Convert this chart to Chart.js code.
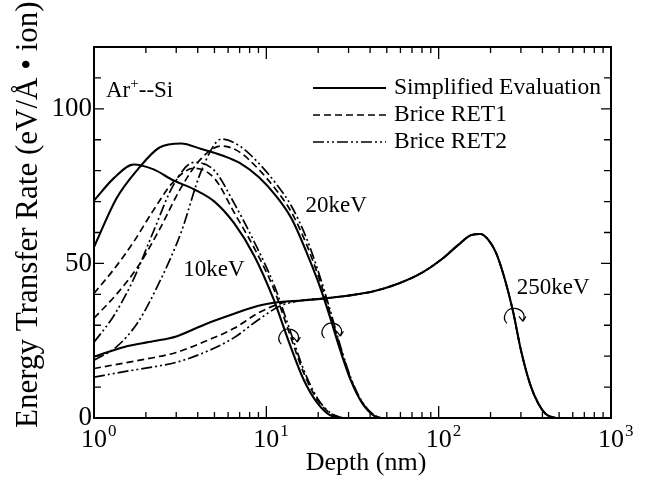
<!DOCTYPE html>
<html>
<head>
<meta charset="utf-8">
<script src="https://cdn.jsdelivr.net/npm/chart.js@4.4.0/dist/chart.umd.min.js"></script>
<style>
  html, body { margin: 0; padding: 0; background: #fff; }
  canvas { display: block; }
</style>
</head>
<body>
<canvas id="chart" width="654" height="491"></canvas>
<script>
// depth grids (nm) and energy transfer rates (eV/A/ion)
const depth10 = [1, 1.3, 1.7, 2.2, 2.9, 3.8, 5, 6.5, 8.5, 11, 13.5, 16.5, 20, 24, 28];
const sim10   = [70.3, 77.5, 82, 80.5, 76.8, 74, 70, 63, 52.5, 38.5, 24.7, 12.3, 4.5, 0.6, 0];
const ret1_10 = [40.3, 48, 57, 67, 76.5, 80.8, 77.5, 66.5, 55, 42, 28, 14.5, 5.5, 1.2, 0];
const ret2_10 = [24.5, 33, 45, 60, 75.5, 82.7, 80, 69.5, 57, 43.5, 29.5, 15.5, 6, 1.3, 0];

const depth20 = [1, 1.35, 1.8, 2.4, 3.2, 4.2, 5.5, 7, 9, 11.5, 14, 17, 20, 23, 27, 31, 36, 42, 46];
const sim20   = [55.3, 71, 80.5, 87.5, 88.8, 87, 85, 82.5, 78, 71.5, 64.5, 54, 44, 34, 21.5, 12, 4.8, 0.8, 0];
const ret1_20 = [32.3, 40, 49, 61, 74.5, 84, 88, 86, 80.5, 73.5, 66.5, 56.5, 46, 35.5, 22.5, 12.5, 5, 0.9, 0];
const ret2_20 = [18.7, 23, 31, 44, 60, 80, 90.2, 88, 82.5, 75.5, 68.5, 58.5, 47.5, 36.5, 23, 12.8, 5.2, 1, 0];

const depth250 = [1, 1.5, 2.2, 3, 4.5, 6.5, 9, 12, 16, 22, 30, 42, 58, 80, 105, 130, 155, 175, 195, 215, 240, 270, 300, 340, 380, 420, 470, 500];
const sim250   = [19.8, 23, 24.8, 26.4, 30.5, 33.7, 36.3, 37.5, 38, 38.7, 39.6, 41, 43.4, 47, 51.5, 56, 59.2, 59.5, 57.5, 53.5, 45.6, 34.5, 22, 10.8, 4.5, 1.2, 0.1, 0];
const ret1_250 = [16, 17.8, 19.5, 21.2, 25, 29, 34, 37, 38, 38.7, 39.6, 41, 43.4, 47, 51.5, 56, 59.2, 59.5, 57.5, 53.5, 45.6, 34.5, 22, 10.8, 4.5, 1.2, 0.1, 0];
const ret2_250 = [13.2, 15, 16.5, 18, 21.5, 26, 31.8, 36.2, 38, 38.7, 39.6, 41, 43.4, 47, 51.5, 56, 59.2, 59.5, 57.5, 53.5, 45.6, 34.5, 22, 10.8, 4.5, 1.2, 0.1, 0];

const legendNames = ["Simplified Evaluation", "Brice RET1", "Brice RET2"];
const xExponents = ["0", "1", "2", "3"];
const yTickValues = [0, 50, 100];

// annotations in data coordinates
const energyLabels = [
  { text: "10keV", x: 3.3, y: 46 },
  { text: "20keV", x: 16.9, y: 66.5 },
  { text: "250keV", x: 284, y: 40 }
];
const curlMarks = [
  { x: 13.6, y: 26.5 },
  { x: 24.2, y: 28.4 },
  { x: 277, y: 33.2 }
];

const SOLID = [];
const DASHED = [7, 4];
const DASH_DOT_DOT = [11, 3, 2, 3, 2, 3];
const styles = [SOLID, DASHED, DASH_DOT_DOT];

function pts(xs, ys) {
  return xs.map((x, i) => ({ x: x, y: ys[i] }));
}

function series(label, xs, ys, dash) {
  return {
    label: label,
    data: pts(xs, ys),
    borderColor: "#000",
    borderWidth: dash.length ? 1.7 : 2.1,
    borderDash: dash,
    pointRadius: 0,
    cubicInterpolationMode: "monotone",
    fill: false
  };
}

const serif = "'Liberation Serif', 'Times New Roman', serif";

const decorations = {
  id: "decorations",
  afterDraw(chart) {
    const ctx = chart.ctx;
    const a = chart.chartArea;
    const xs = chart.scales.x;
    const ys = chart.scales.y;
    ctx.save();
    ctx.strokeStyle = "#000";
    ctx.fillStyle = "#000";

    // frame
    ctx.lineWidth = 2;
    ctx.setLineDash([]);
    ctx.strokeRect(a.left, a.top, a.right - a.left, a.bottom - a.top);

    // x ticks (log), inward on bottom and top
    ctx.lineWidth = 1.3;
    ctx.beginPath();
    for (let e = 0; e < 3; e++) {
      for (let m = 1; m <= 9; m++) {
        const v = m * Math.pow(10, e);
        const px = xs.getPixelForValue(v);
        const len = m === 1 ? 12 : 6;
        ctx.moveTo(px, a.bottom); ctx.lineTo(px, a.bottom - len);
        ctx.moveTo(px, a.top); ctx.lineTo(px, a.top + len);
      }
    }
    // y ticks every 10
    for (let v = 10; v < 120; v += 10) {
      const py = ys.getPixelForValue(v);
      const len = v % 50 === 0 ? 10 : 7;
      ctx.moveTo(a.left, py); ctx.lineTo(a.left + len, py);
      ctx.moveTo(a.right, py); ctx.lineTo(a.right - len, py);
    }
    ctx.stroke();

    // y tick labels
    ctx.font = "27px " + serif;
    ctx.textAlign = "right";
    ctx.textBaseline = "middle";
    yTickValues.forEach(v => {
      ctx.fillText(String(v), a.left - 2, ys.getPixelForValue(v));
    });

    // x tick labels 10^n
    xExponents.forEach(ex => {
      const px = xs.getPixelForValue(Math.pow(10, Number(ex)));
      ctx.font = "26px " + serif;
      ctx.textAlign = "center";
      ctx.textBaseline = "alphabetic";
      ctx.fillText("10", px, a.bottom + 29);
      const w = ctx.measureText("10").width;
      ctx.font = "17px " + serif;
      ctx.textAlign = "left";
      ctx.fillText(ex, px + w / 2 + 1, a.bottom + 18);
    });

    // axis titles
    ctx.font = "26px " + serif;
    ctx.textAlign = "center";
    ctx.textBaseline = "alphabetic";
    ctx.fillText("Depth (nm)", 366, 470);

    ctx.save();
    ctx.translate(29, 428);
    ctx.rotate(-Math.PI / 2);
    ctx.font = "31px " + serif;
    ctx.textAlign = "left";
    ctx.textBaseline = "middle";
    ctx.fillText("Energy Transfer Rate (eV/\u00C5 \u2022 ion)", 0, 0);
    ctx.restore();

    // Ar+--Si
    ctx.font = "23px " + serif;
    ctx.textAlign = "left";
    ctx.textBaseline = "alphabetic";
    let tx = a.left + 12;
    const ty = a.top + 50;
    ctx.fillText("Ar", tx, ty);
    tx += ctx.measureText("Ar").width;
    ctx.font = "15px " + serif;
    ctx.fillText("+", tx, ty - 9);
    tx += ctx.measureText("+").width;
    ctx.font = "23px " + serif;
    ctx.fillText("--Si", tx, ty);

    // legend
    legendNames.forEach((name, i) => {
      const ly = a.top + 41 + i * 27;
      ctx.lineWidth = i === 0 ? 2 : 1.6;
      ctx.setLineDash(styles[i]);
      ctx.beginPath();
      ctx.moveTo(a.right - 298, ly);
      ctx.lineTo(a.right - 225, ly);
      ctx.stroke();
      ctx.setLineDash([]);
      ctx.font = "23.5px " + serif;
      ctx.textBaseline = "middle";
      ctx.fillText(name, a.right - 217, ly);
    });

    // energy labels
    ctx.font = "23px " + serif;
    ctx.textBaseline = "alphabetic";
    energyLabels.forEach(l => {
      ctx.fillText(l.text, xs.getPixelForValue(l.x), ys.getPixelForValue(l.y));
    });

    // curl arrows
    ctx.lineWidth = 1.2;
    curlMarks.forEach(c => {
      const cx = xs.getPixelForValue(c.x);
      const cy = ys.getPixelForValue(c.y);
      ctx.beginPath();
      ctx.moveTo(cx - 8, cy + 8);
      ctx.bezierCurveTo(cx - 14, cy + 2, cx - 8, cy - 8, cx, cy - 7);
      ctx.bezierCurveTo(cx + 8, cy - 6, cx + 11, cy, cx + 8, cy + 5);
      ctx.stroke();
      ctx.beginPath();
      ctx.moveTo(cx + 8, cy + 6);
      ctx.lineTo(cx + 4, cy + 1);
      ctx.moveTo(cx + 8, cy + 6);
      ctx.lineTo(cx + 11, cy + 1);
      ctx.stroke();
    });

    ctx.restore();
  }
};

const ctx = document.getElementById("chart").getContext("2d");
new Chart(ctx, {
  type: "line",
  data: {
    datasets: [
      series("10keV " + legendNames[0], depth10, sim10, SOLID),
      series("10keV " + legendNames[1], depth10, ret1_10, DASHED),
      series("10keV " + legendNames[2], depth10, ret2_10, DASH_DOT_DOT),
      series("20keV " + legendNames[0], depth20, sim20, SOLID),
      series("20keV " + legendNames[1], depth20, ret1_20, DASHED),
      series("20keV " + legendNames[2], depth20, ret2_20, DASH_DOT_DOT),
      series("250keV " + legendNames[0], depth250, sim250, SOLID),
      series("250keV " + legendNames[1], depth250, ret1_250, DASHED),
      series("250keV " + legendNames[2], depth250, ret2_250, DASH_DOT_DOT)
    ]
  },
  options: {
    responsive: false,
    animation: false,
    devicePixelRatio: 1,
    layout: { padding: { left: 94, right: 43, top: 47, bottom: 73 } },
    plugins: {
      legend: { display: false },
      tooltip: { enabled: false }
    },
    scales: {
      x: { type: "logarithmic", min: 1, max: 1000, display: false },
      y: { type: "linear", min: 0, max: 120, display: false }
    }
  },
  plugins: [decorations]
});
</script>
</body>
</html>
